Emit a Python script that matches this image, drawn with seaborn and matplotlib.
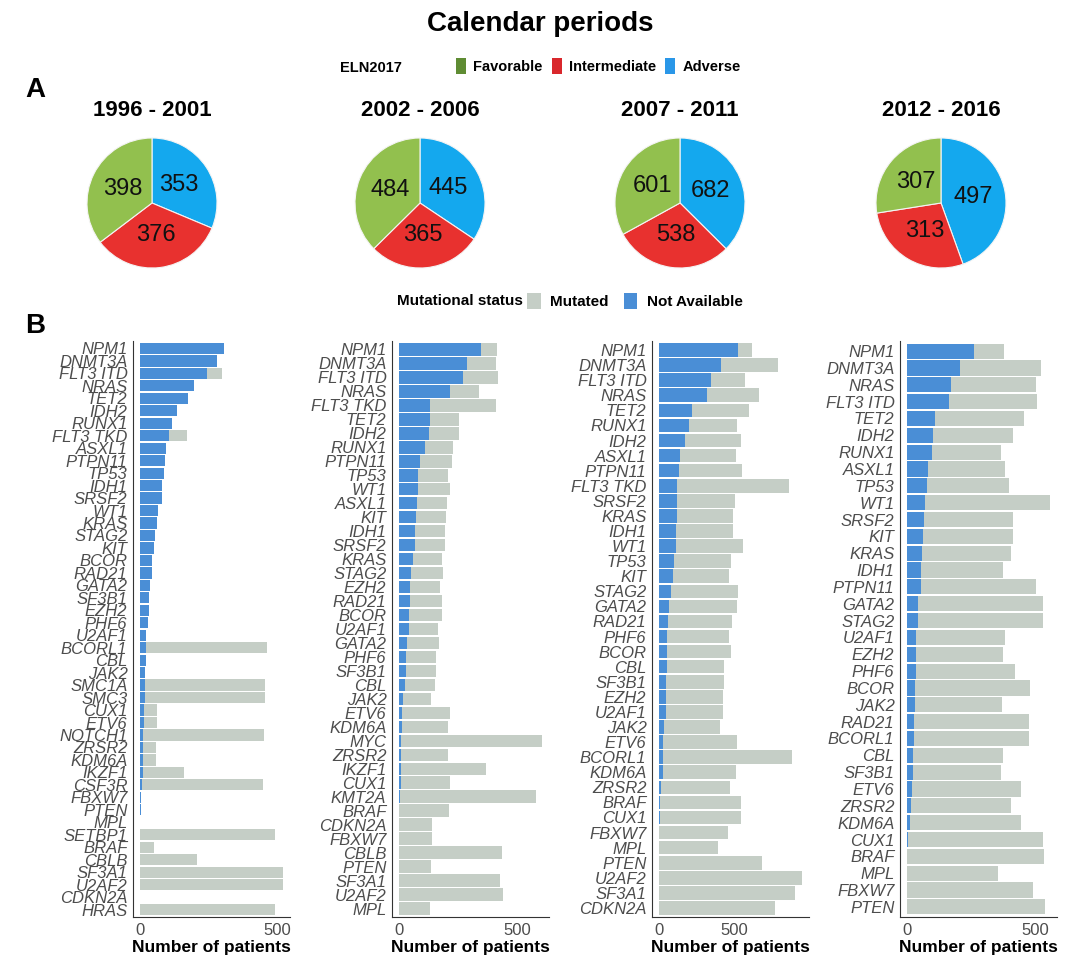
import numpy as np
import pandas as pd
import matplotlib
matplotlib.use("Agg")
import matplotlib.pyplot as plt
from matplotlib.patches import Patch
import seaborn as sns

# ---------------- data ----------------
periods = ["1996 - 2001", "2002 - 2006", "2007 - 2011", "2012 - 2016"]
eln_levels = ["Favorable", "Intermediate", "Adverse"]
favorable = [398, 484, 601, 307]
intermediate = [376, 365, 538, 313]
adverse = [353, 445, 682, 497]

genes_p1 = ["NPM1", "DNMT3A", "FLT3 ITD", "NRAS", "TET2", "IDH2", "RUNX1", "FLT3 TKD", "ASXL1",
            "PTPN11", "TP53", "IDH1", "SRSF2", "WT1", "KRAS", "STAG2", "KIT", "BCOR", "RAD21",
            "GATA2", "SF3B1", "EZH2", "PHF6", "U2AF1", "BCORL1", "CBL", "JAK2", "SMC1A", "SMC3",
            "CUX1", "ETV6", "NOTCH1", "ZRSR2", "KDM6A", "IKZF1", "CSF3R", "FBXW7", "PTEN", "MPL",
            "SETBP1", "BRAF", "CBLB", "SF3A1", "U2AF2", "CDKN2A", "HRAS"]
na_p1 = [307, 282, 243, 197, 174, 134, 118, 106, 95, 90, 88, 79, 78, 65, 62, 56, 52, 45, 43, 36,
         34, 32, 29, 22, 22, 21, 18, 18, 16, 15, 14, 12, 12, 11, 9, 8, 3, 2, 1, 0, 0, 0, 0, 0, 0, 0]
mut_p1 = [307, 282, 300, 197, 174, 134, 118, 170, 95, 90, 88, 79, 78, 65, 62, 56, 52, 45, 43, 36,
          34, 32, 29, 22, 462, 21, 18, 457, 454, 62, 61, 451, 58, 58, 161, 447, 3, 2, 1, 494,
          52, 206, 521, 521, 0, 493]

genes_p2 = ["NPM1", "DNMT3A", "FLT3 ITD", "NRAS", "FLT3 TKD", "TET2", "IDH2", "RUNX1", "PTPN11",
            "TP53", "WT1", "ASXL1", "KIT", "IDH1", "SRSF2", "KRAS", "STAG2", "EZH2", "RAD21", "BCOR",
            "U2AF1", "GATA2", "PHF6", "SF3B1", "CBL", "JAK2", "ETV6", "KDM6A", "MYC", "ZRSR2",
            "IKZF1", "CUX1", "KMT2A", "BRAF", "CDKN2A", "FBXW7", "CBLB", "PTEN", "SF3A1", "U2AF2", "MPL"]
na_p2 = [346, 287, 271, 216, 131, 130, 127, 108, 88, 82, 82, 76, 73, 69, 68, 57, 51, 45, 45, 42,
         40, 34, 31, 30, 24, 17, 14, 13, 10, 8, 7, 6, 2, 1, 0, 0, 0, 0, 0, 0, 0]
mut_p2 = [414, 411, 418, 338, 411, 254, 253, 229, 223, 206, 216, 201, 198, 194, 194, 182, 186, 174,
          182, 180, 166, 169, 157, 157, 150, 136, 215, 209, 605, 206, 370, 215, 581, 212, 140, 140,
          434, 137, 428, 440, 129]

genes_p3 = ["NPM1", "DNMT3A", "FLT3 ITD", "NRAS", "TET2", "RUNX1", "IDH2", "ASXL1", "PTPN11",
            "FLT3 TKD", "SRSF2", "KRAS", "IDH1", "WT1", "TP53", "KIT", "STAG2", "GATA2", "RAD21",
            "PHF6", "BCOR", "CBL", "SF3B1", "EZH2", "U2AF1", "JAK2", "ETV6", "BCORL1", "KDM6A",
            "ZRSR2", "BRAF", "CUX1", "FBXW7", "MPL", "PTEN", "U2AF2", "SF3A1", "CDKN2A"]
na_p3 = [525, 414, 348, 321, 221, 199, 173, 142, 131, 120, 120, 117, 115, 111, 102, 89, 77, 66, 60,
         53, 53, 51, 49, 49, 46, 33, 29, 27, 27, 11, 9, 7, 0, 0, 0, 0, 0, 0]
mut_p3 = [617, 788, 569, 662, 600, 516, 545, 511, 553, 863, 502, 494, 489, 560, 480, 467, 525, 516,
          485, 465, 476, 434, 429, 423, 425, 403, 520, 885, 511, 471, 545, 545, 456, 390, 686, 950,
          905, 770]

genes_p4 = ["NPM1", "DNMT3A", "NRAS", "FLT3 ITD", "TET2", "IDH2", "RUNX1", "ASXL1", "TP53", "WT1",
            "SRSF2", "KIT", "KRAS", "IDH1", "PTPN11", "GATA2", "STAG2", "U2AF1", "EZH2", "PHF6",
            "BCOR", "JAK2", "RAD21", "BCORL1", "CBL", "SF3B1", "ETV6", "ZRSR2", "KDM6A", "CUX1",
            "BRAF", "MPL", "FBXW7", "PTEN"]
na_p4 = [259, 205, 172, 163, 110, 99, 96, 81, 78, 70, 66, 62, 57, 55, 53, 44, 42, 36, 35, 33, 31,
         29, 27, 25, 23, 22, 17, 16, 13, 4, 0, 0, 0, 0]
mut_p4 = [377, 520, 502, 504, 456, 412, 365, 381, 395, 555, 412, 413, 404, 372, 502, 530, 528, 381,
          373, 420, 477, 367, 475, 473, 372, 365, 443, 404, 441, 530, 532, 355, 488, 537]

# ---------------- style ----------------
sns.set_style("white")
plt.rcParams["font.family"] = ["Liberation Sans", "DejaVu Sans"]
plt.rcParams["text.color"] = "black"

PIE_COLS = {"Favorable": "#92C04E", "Intermediate": "#E8312F", "Adverse": "#14A8EE"}
KEY_COLS = {"Favorable": "#5F8C33", "Intermediate": "#D9272C", "Adverse": "#2A97E8"}
GREY = "#C5CEC6"
BLUE = "#4A8ED6"
W, H = 1080, 973

fig = plt.figure(figsize=(W / 100, H / 100), dpi=100)


def fx(px):
    return px / W


def fy(py):
    return 1 - py / H


fig.text(0.5, fy(24), "Calendar periods", ha="center", va="center", fontsize=20, fontweight="bold")
fig.text(fx(35), fy(90), "A", ha="center", va="center", fontsize=20, fontweight="bold")
fig.text(fx(35), fy(326), "B", ha="center", va="center", fontsize=20, fontweight="bold")

# ELN2017 legend
fig.text(fx(402), fy(67), "ELN2017", ha="right", va="center_baseline", fontsize=10.5, fontweight="bold")
eln_handles = [Patch(facecolor=KEY_COLS[k], edgecolor="none", label=k) for k in eln_levels]
fig.legend(handles=eln_handles, loc="center left", bbox_to_anchor=(fx(456), fy(66)), ncol=3,
           frameon=False, handlelength=0.7, handleheight=1.3, handletextpad=0.5,
           columnspacing=0.6, borderaxespad=0, borderpad=0,
           prop={"size": 10.5, "weight": "bold"})

# ---------------- pies ----------------
pie_cx = [152, 420, 680, 941]
pie_cy = 203
pie_r = 65
for i, per in enumerate(periods):
    ax = fig.add_axes([fx(pie_cx[i] - pie_r), fy(pie_cy + pie_r), 2 * pie_r / W, 2 * pie_r / H])
    vals = [adverse[i], intermediate[i], favorable[i]]
    cols = [PIE_COLS["Adverse"], PIE_COLS["Intermediate"], PIE_COLS["Favorable"]]
    ax.pie(vals, labels=[str(v) for v in vals], colors=cols, startangle=90, counterclock=False,
           labeldistance=0.5, radius=1,
           wedgeprops={"edgecolor": "#f4f4f4", "linewidth": 0.8},
           textprops={"fontsize": 17, "ha": "center", "va": "center", "color": "#111111"})
    ax.set_xlim(-1, 1)
    ax.set_ylim(-1, 1)
    fig.text(fx(pie_cx[i]), fy(110), per, ha="center", va="center", fontsize=16, fontweight="bold")

# Mutational status legend
fig.text(fx(523), fy(301), "Mutational status", ha="right", va="center", fontsize=11, fontweight="bold")
mut_handles = [Patch(facecolor=GREY, edgecolor="none", label="Mutated"),
               Patch(facecolor=BLUE, edgecolor="none", label="Not Available")]
fig.legend(handles=mut_handles, loc="center left", bbox_to_anchor=(fx(527), fy(301)), ncol=2,
           frameon=False, handlelength=0.9, handleheight=1.2, handletextpad=0.6,
           columnspacing=1.0, borderaxespad=0, borderpad=0,
           prop={"size": 11, "weight": "bold"})

# ---------------- bar panels ----------------
panels = [(genes_p1, na_p1, mut_p1), (genes_p2, na_p2, mut_p2),
          (genes_p3, na_p3, mut_p3), (genes_p4, na_p4, mut_p4)]
lefts = [133, 392, 652, 900]
top_px, bot_px, width_px = 341, 917, 157

for i, (genes, na, mut) in enumerate(panels):
    ax = fig.add_axes([fx(lefts[i]), fy(bot_px), width_px / W, (bot_px - top_px) / H])
    df = pd.DataFrame({"gene": genes, "mutated": mut, "not_available": na})
    sns.barplot(data=df, x="mutated", y="gene", order=genes, color=GREY, saturation=1,
                width=0.9, linewidth=0, errorbar=None, orient="h", ax=ax)
    sns.barplot(data=df, x="not_available", y="gene", order=genes, color=BLUE, saturation=1,
                width=0.9, linewidth=0, errorbar=None, orient="h", ax=ax)
    m = max(max(mut), max(na))
    ax.set_xlim(-0.05 * m, 1.05 * m)
    ax.set_ylim(len(genes) - 0.4, -0.6)
    ax.set_xticks([0, 500])
    ax.set_ylabel("")
    ax.set_xlabel("Number of patients", fontsize=12.5, fontweight="bold", color="black", labelpad=2)
    for s in ["top", "right"]:
        ax.spines[s].set_visible(False)
    for s in ["left", "bottom"]:
        ax.spines[s].set_color("#333333")
        ax.spines[s].set_linewidth(0.8)
    ax.tick_params(axis="both", length=3, width=0.6, color="#333333", labelcolor="#4D4D4D",
                   labelsize=12, pad=1)
    for lab in ax.get_yticklabels():
        lab.set_fontstyle("italic")

fig.savefig("out.png", dpi=100, facecolor="white")
